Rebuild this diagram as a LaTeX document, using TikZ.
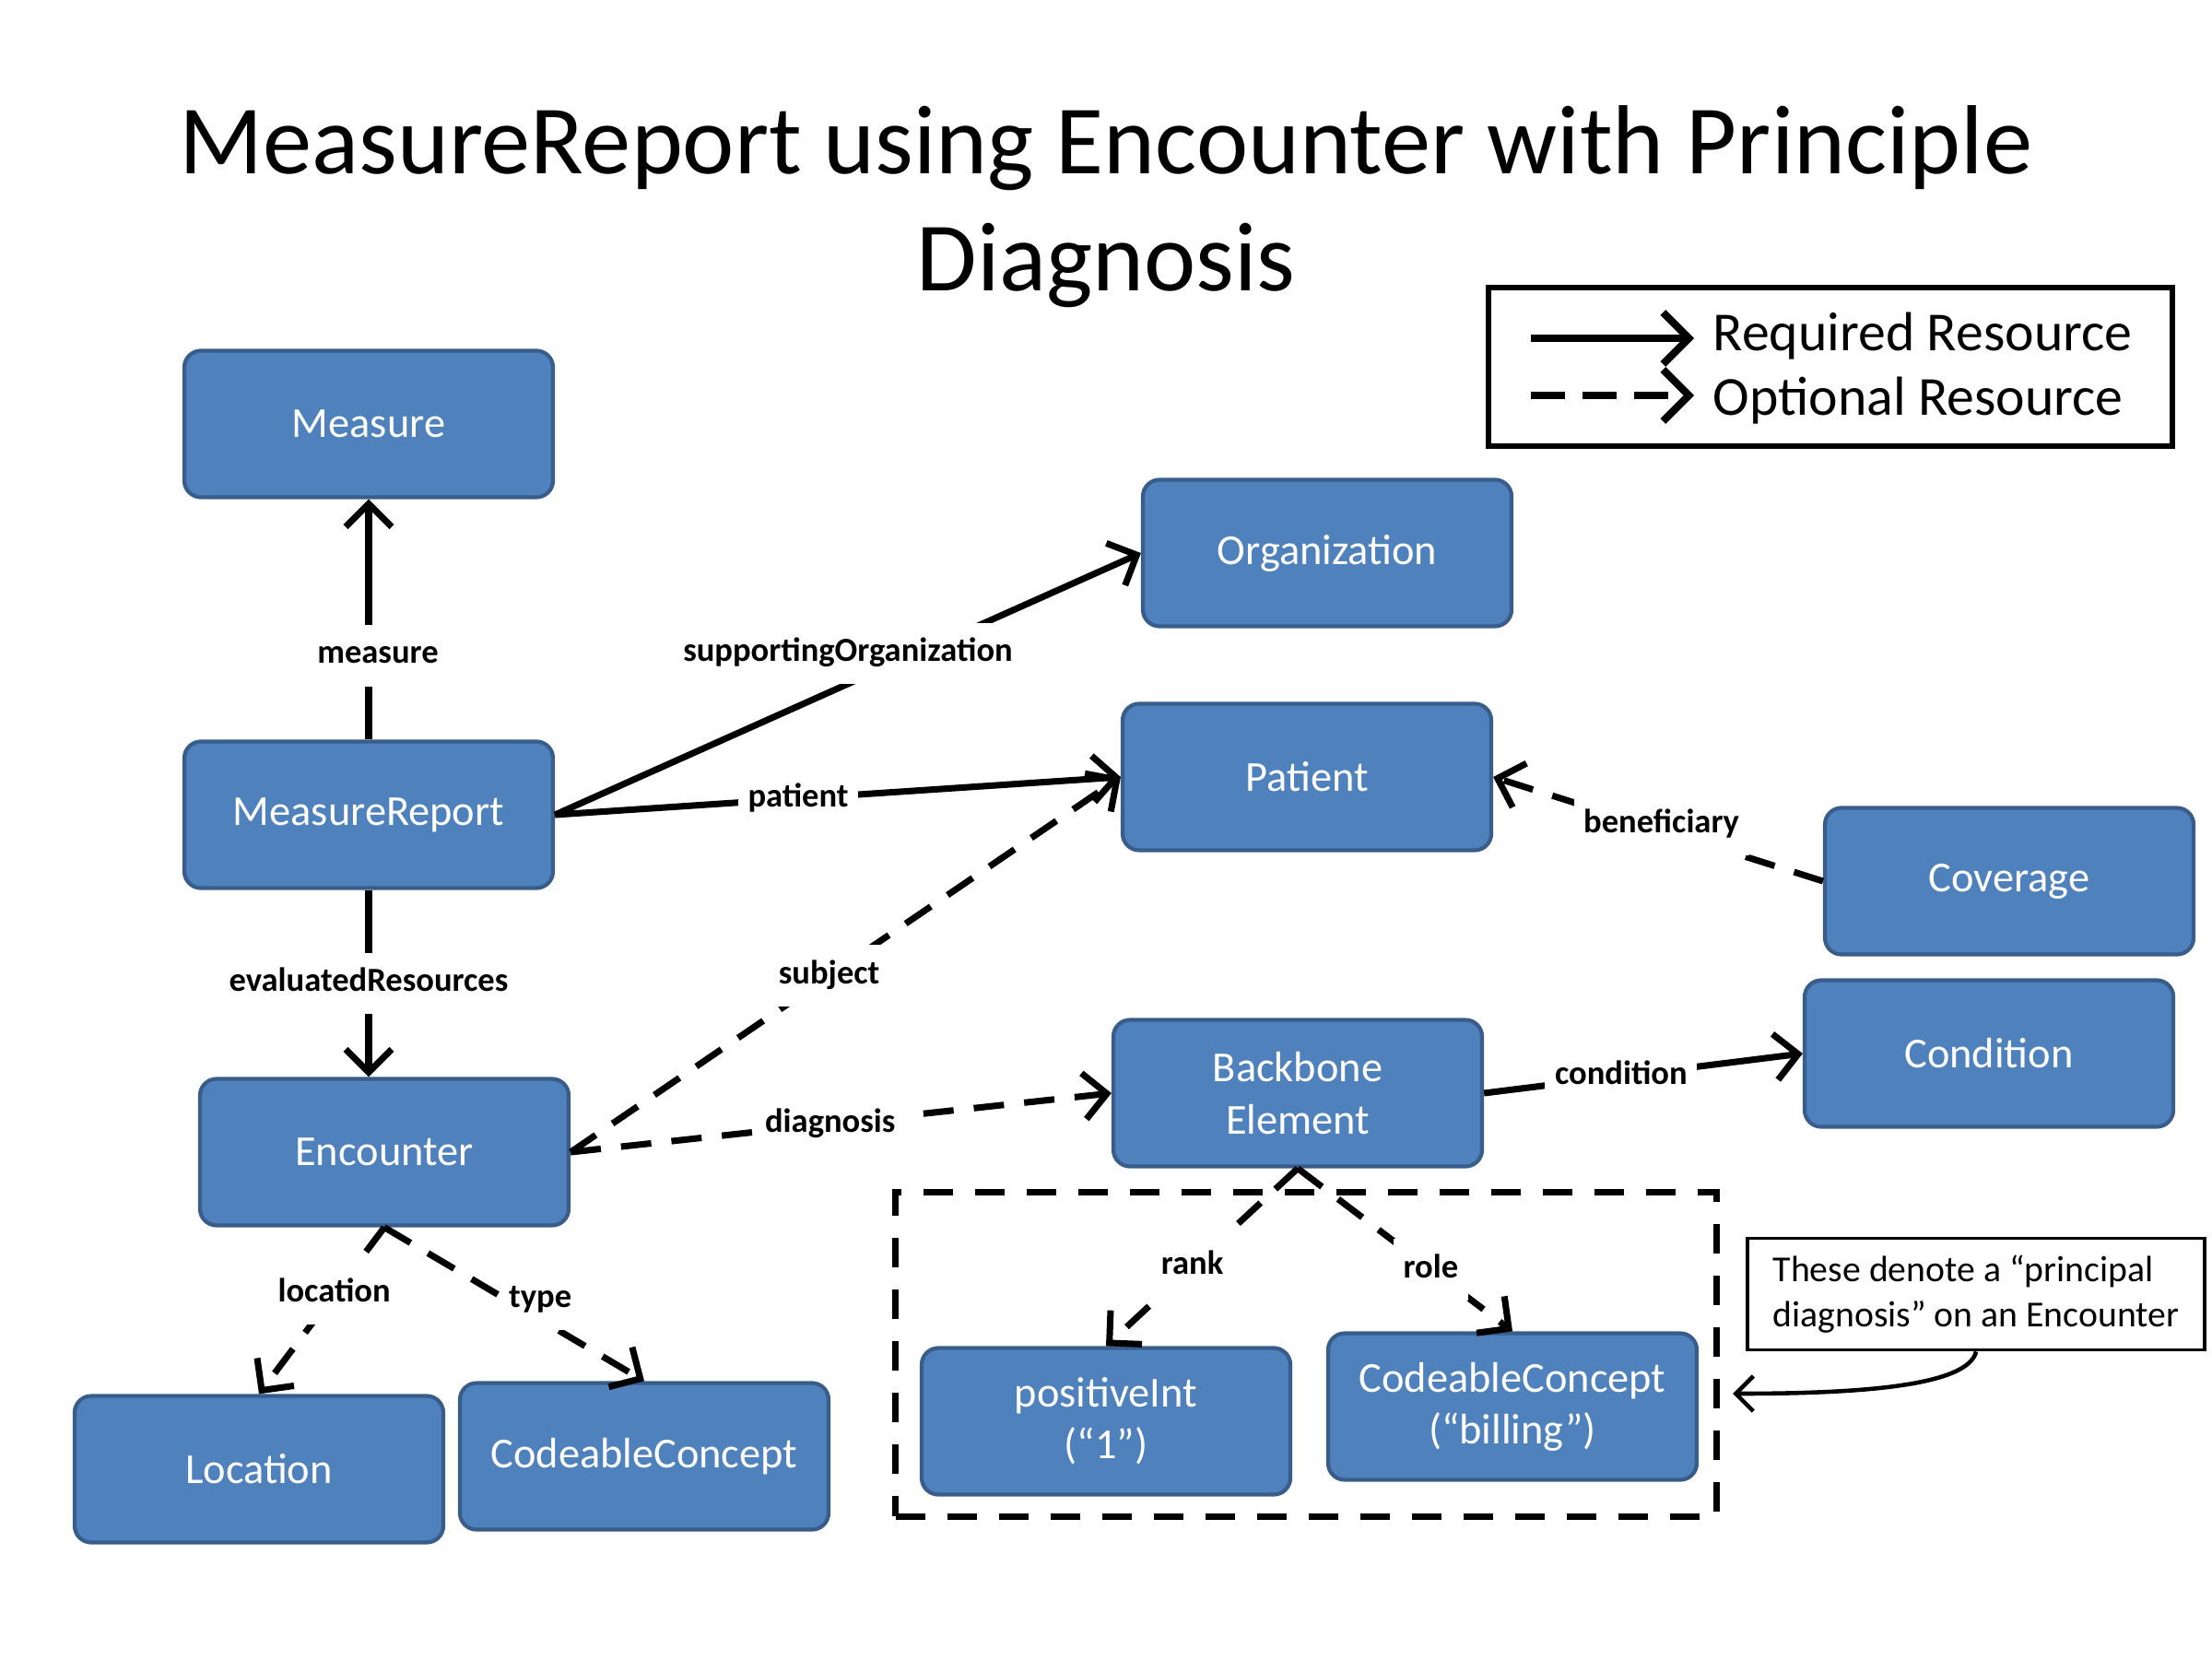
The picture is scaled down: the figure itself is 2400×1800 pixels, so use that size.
\documentclass[tikz,border=0pt]{standalone}
\usepackage{fontspec}
\setmainfont{Carlito}
\usetikzlibrary{arrows.meta}
\definecolor{boxfill}{RGB}{79,129,189}
\definecolor{boxline}{RGB}{56,93,138}
\begin{document}
\begin{tikzpicture}[
  x=0.1mm, y=-0.1mm,
  res/.style={rectangle, rounded corners=1.8mm, draw=boxline, line width=1.2pt,
              fill=boxfill, text=white, minimum width=40mm, minimum height=15.9mm,
              font=\fontsize{13.2}{16}\selectfont, align=center},
  arrow/.style={-{Straight Barb[length=2.5mm,width=5mm]}, line width=2pt},
  optional/.style={arrow, dash pattern=on 3.3mm off 2.2mm},
  edgelabel/.style={fill=white, inner xsep=3pt, inner ysep=4.5pt, text height=7.5pt,
                    text depth=2.5pt, font=\fontsize{10.4}{12}\selectfont\bfseries},
  legendarrow/.style={-{Straight Barb[length=2.8mm,width=5.6mm]}, line width=2.3pt}
]
\useasboundingbox (0,0) rectangle (2400,1800);

\node[font=\fontsize{30.3}{36}\selectfont, align=center] (title) at (1200,224)
  {MeasureReport using Encounter with Principle\\Diagnosis};

\node[draw, line width=1.9pt, minimum width=74.2mm, minimum height=17.2mm] (legend) at (1986,398) {};
\coordinate (req-a) at (1661,367);
\coordinate (req-b) at (1838,367);
\coordinate (opt-a) at (1661,429);
\coordinate (opt-b) at (1838,429);
\draw[legendarrow] (req-a) -- (req-b);
\draw[legendarrow, dash pattern=on 3.7mm off 1.9mm] (opt-a) -- (opt-b);
\node[anchor=west, inner sep=0, font=\fontsize{17}{20}\selectfont] (reqtext) at (1858,365) {Required Resource};
\node[anchor=west, inner sep=0, font=\fontsize{17}{20}\selectfont] (opttext) at (1858,435) {Optional Resource};

\node[draw, line width=2pt, dash pattern=on 3.2mm off 2.4mm,
      minimum width=89.1mm, minimum height=35.2mm] (group) at (1417,1469) {};

\node[res] (measure) at (400,460) {Measure};
\node[res] (report) at (400,884) {MeasureReport};
\node[res] (encounter) at (417,1250) {Encounter};
\node[res] (location) at (281,1594) {Location};
\node[res] (typecc) at (699,1580) {CodeableConcept};
\node[res] (org) at (1440,600) {Organization};
\node[res] (patient) at (1418,843) {Patient};
\node[res] (coverage) at (2180,956) {Coverage};
\node[res] (condition) at (2158,1143) {Condition};
\node[res] (backbone) at (1408,1186) {Backbone\\Element};
\node[res] (posint) at (1200,1542) {positiveInt\\(“1”)};
\node[res] (rolecc) at (1641,1526) {CodeableConcept\\(“billing”)};

\node[draw, line width=1.1pt, align=left, minimum width=49.6mm, minimum height=12.1mm,
      font=\fontsize{11.3}{13.9}\selectfont] (note) at (2144,1404)
  {These denote a “principal\\diagnosis” on an Encounter};

\draw[arrow] (report.north) -- node[edgelabel, pos=0.35, xshift=1mm] {measure} (measure.south);
\draw[arrow] (report.east) -- node[edgelabel, pos=0.5, yshift=3.3mm] {supportingOrganization} (org.west);
\draw[arrow] (report.east) -- node[edgelabel, pos=0.43] {patient} (patient.west);
\draw[arrow] (report.south) -- node[edgelabel, pos=0.5] {evaluatedResources} (encounter.north -| report.south);
\draw[optional] (encounter.east) -- node[edgelabel, pos=0.47] {subject} (patient.west);
\draw[optional] (encounter.east) -- node[edgelabel, pos=0.48] {diagnosis} (backbone.west);
\draw[arrow] (backbone.east) -- node[edgelabel, pos=0.43] {condition} (condition.west);
\draw[optional] (coverage.west) -- node[edgelabel, pos=0.49, yshift=0.6mm] {beneficiary} (patient.east);
\draw[optional] (encounter.south) -- node[edgelabel, pos=0.4] {location} (location.north);
\draw[optional] (encounter.south) -- node[edgelabel, pos=0.6, yshift=2.2mm] {type} (typecc.north);
\draw[optional] (backbone.south) -- node[edgelabel, pos=0.55] {rank} (posint.north);
\draw[optional] (backbone.south) -- node[edgelabel, pos=0.62] {role} (rolecc.north);
\draw[-{Straight Barb[length=1.9mm,width=3.8mm]}, line width=1.3pt]
  (note.south) .. controls (2135,1505) and (2010,1512) .. ([xshift=1.4mm,yshift=-4.3mm]group.east);
\end{tikzpicture}
\end{document}
